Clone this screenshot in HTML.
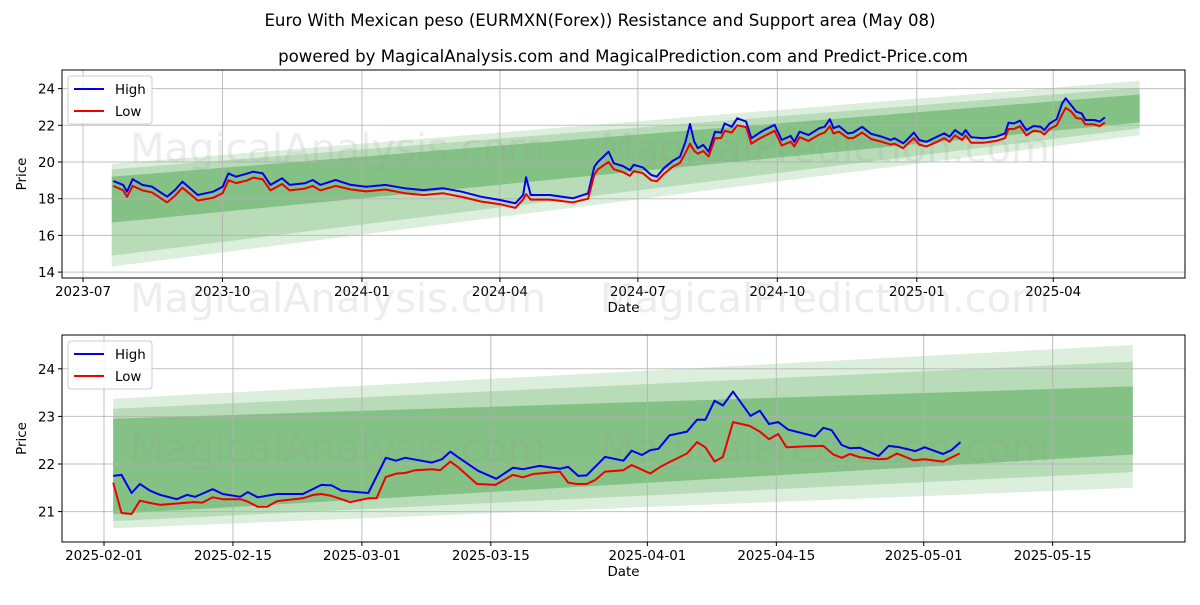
<!DOCTYPE html>
<html><head><meta charset="utf-8"><style>
body{margin:0;background:#fff;}
svg{font-family:"DejaVu Sans","Liberation Sans",sans-serif;}
</style></head><body>
<svg id="c" width="1200" height="600" viewBox="0 0 1200 600" xmlns="http://www.w3.org/2000/svg">
<rect width="1200" height="600" fill="#fff"/>
<text x="600" y="26" text-anchor="middle" font-size="16.6">Euro With Mexican peso (EURMXN(Forex)) Resistance and Support area (May 08)</text>
<text x="623" y="62" text-anchor="middle" font-size="16.6">powered by MagicalAnalysis.com and MagicalPrediction.com and Predict-Price.com</text>
<g id="top"></g>
<g id="bot"></g>
</svg>
<script>
// ---------- TOP CHART DATA (days since 2023-07-01) ----------
const topDays = [20,26.5,29,32.8,39.1,45.4,55.5,60.6,65.6,75.7,85.8,92.1,95.9,100.9,108.5,112.3,118.6,123.7,131.3,136.3,146.4,151.5,156.5,166.6,176.7,186.8,199.4,212,224.7,237.3,249.9,262.5,275.1,285.2,290.3,292.3,295.3,307.9,323.1,333.2,
337.3,339.6,346.7,350.2,356.1,360.8,363.2,369.1,374.9,378.5,383.2,389.1,393.8,397.4,400.4,403.2,405.6,409.1,412.7,416.9,420.9,423.2,428.0,431.5,437.4,440.9,445.6,450.3,456.2,460.9,466.8,469.2,472.7,478.6,485.7,489.2,492.7,495.1,498.6,504.5,508.0,513.9,519.9,526.9,532.8,535.2,541.0,543.4,548.1,551.6,556.3,563.4,568.1,571.6,575.2,579.9,582.2,585.8,594.0,602.3,608.2,610.5,614.0,618.1,622.3,627.0,631.7,634.1,637.6,642.3,645.9,648.2,651.8,655.3,658.8,661.2,667.1,670.6,674.1];
const topHigh = [18.96,18.75,18.38,19.06,18.75,18.66,18.11,18.47,18.93,18.2,18.38,18.65,19.38,19.2,19.38,19.47,19.38,18.75,19.11,18.75,18.84,19.02,18.75,19.02,18.75,18.65,18.75,18.57,18.47,18.57,18.38,18.11,17.93,17.75,18.2,19.17,18.2,18.2,18.02,18.29,
19.74,20.0,20.56,19.93,19.78,19.56,19.84,19.71,19.29,19.2,19.66,20.07,20.29,21.1,22.07,21.1,20.75,20.93,20.56,21.65,21.6,22.1,21.92,22.38,22.2,21.29,21.56,21.78,22.02,21.2,21.42,21.1,21.65,21.47,21.84,21.92,22.33,21.84,21.96,21.56,21.6,21.92,21.53,21.38,21.2,21.29,21.02,21.2,21.6,21.2,21.1,21.38,21.56,21.38,21.74,21.47,21.74,21.35,21.29,21.38,21.56,22.14,22.1,22.25,21.74,21.96,21.92,21.74,22.1,22.33,23.2,23.47,23.1,22.74,22.65,22.29,22.29,22.2,22.43];
const topLow = [18.7,18.45,18.1,18.7,18.45,18.35,17.8,18.15,18.6,17.9,18.05,18.3,19.0,18.85,19.0,19.15,19.05,18.45,18.8,18.45,18.55,18.7,18.45,18.7,18.5,18.4,18.5,18.3,18.2,18.3,18.1,17.85,17.7,17.5,17.95,18.25,17.95,17.95,17.8,18.0,
19.3,19.6,20.0,19.6,19.45,19.25,19.5,19.4,19.0,18.95,19.35,19.75,19.95,20.5,21.0,20.6,20.45,20.6,20.3,21.3,21.3,21.7,21.6,22.0,21.9,21.0,21.25,21.45,21.7,20.9,21.1,20.85,21.35,21.15,21.5,21.6,21.95,21.55,21.65,21.3,21.3,21.6,21.25,21.1,20.95,21.0,20.75,20.95,21.3,20.95,20.85,21.1,21.3,21.1,21.45,21.2,21.45,21.05,21.05,21.15,21.3,21.8,21.8,21.95,21.45,21.7,21.65,21.5,21.8,22.0,22.6,22.95,22.75,22.4,22.35,22.05,22.05,21.95,22.15];
const topTickLabels = ["2023-07","2023-10","2024-01","2024-04","2024-07","2024-10","2025-01","2025-04"];
const topYTicks = [14,16,18,20,22,24];
const topBandStart = "2023-07-20", topBandEnd = "2025-05-28";
const topBandLo0 = [14.3,14.9,16.7], topBandHi0 = [19.9,19.6,19.2];
const topBandLo1 = [21.46,21.84,22.16], topBandHi1 = [24.43,24.05,23.68];

// ---------- BOTTOM CHART DATA (days since 2025-02-01) ----------
const botHighDays = [1,1.9,3,3.9,5,6.1,7.9,9,9.9,10.6,11.8,12.9,14.8,15.6,16.7,18.8,21.6,23.6,24.7,25.8,28.7,30.6,31.7,32.7,35.6,36.7,37.6,38.4,40.6,42.6,44.4,45.5,47.3,49.5,50.4,51.5,52.4,54.4,56.4,57.3,58.4,59.3,60.2,61.4,63.3,64.4,65.3,66.3,67.2,68.3,70.2,71.2,72.2,73.2,74.3,77.2,78.1,79,80.1,81,82.1,84.1,85.2,86.4,88.1,89.1,91.1,92,93];
const botHighVals = [21.75,21.77,21.39,21.58,21.44,21.35,21.26,21.35,21.31,21.37,21.47,21.37,21.31,21.41,21.30,21.37,21.37,21.56,21.55,21.44,21.39,22.13,22.07,22.13,22.03,22.10,22.26,22.15,21.86,21.69,21.92,21.89,21.96,21.90,21.94,21.75,21.76,22.15,22.07,22.28,22.19,22.29,22.32,22.60,22.68,22.93,22.93,23.33,23.23,23.52,23.01,23.12,22.84,22.88,22.72,22.58,22.76,22.71,22.40,22.33,22.34,22.17,22.38,22.35,22.27,22.35,22.21,22.29,22.46];
const botLowDays = [1,1.9,3,3.9,5,6.1,7.9,9.7,10.7,11.8,12.9,14.8,15.6,16.7,17.7,18.8,21.6,22.7,23.6,24.7,26.7,28.7,29.6,30.6,31.8,32.7,33.8,35.6,36.5,37.6,38.4,40.5,42.5,44.4,45.5,46.6,49.5,50.4,51.3,52.4,53.3,54.4,56.4,57.3,59.3,60.4,61.5,63.3,64.4,65.3,66.3,67.2,68.3,70.1,71.2,72.2,73.2,74.1,76.1,78.1,79.2,80.1,81,82.1,84.1,85,86.1,87.9,89.1,91.1,92.9];
const botLowVals = [21.61,20.97,20.95,21.23,21.18,21.14,21.17,21.20,21.19,21.30,21.26,21.26,21.21,21.10,21.10,21.22,21.28,21.35,21.37,21.33,21.20,21.28,21.28,21.73,21.80,21.81,21.87,21.89,21.87,22.05,21.94,21.58,21.56,21.77,21.72,21.79,21.84,21.61,21.58,21.58,21.66,21.84,21.87,21.98,21.80,21.94,22.05,22.22,22.46,22.35,22.05,22.15,22.88,22.80,22.68,22.52,22.63,22.35,22.37,22.38,22.20,22.13,22.21,22.14,22.10,22.11,22.22,22.08,22.10,22.05,22.22];
const botTickLabels = ["2025-02-01","2025-02-15","2025-03-01","2025-03-15","2025-04-01","2025-04-15","2025-05-01","2025-05-15"];
const botYTicks = [21,22,23,24];
const botBandStartDay = 1, botBandEndDay = 111.7;
const botBandLo0 = [20.65,20.8,20.95], botBandHi0 = [23.37,23.16,22.95];
const botBandLo1 = [21.5,21.83,22.2], botBandHi1 = [24.5,24.15,23.63];

const NS="http://www.w3.org/2000/svg";
const bandColors=["#dcefdc","#b7dcb7","#84c184"];
function mk(tag,attrs,parent){const e=document.createElementNS(NS,tag);for(const k in attrs)e.setAttribute(k,attrs[k]);parent.appendChild(e);return e;}
const DAY=86400000;
function dd(s){return (Date.parse(s+"T00:00:00Z")-Date.parse("2023-07-01T00:00:00Z"))/DAY;}
function bd(s){return (Date.parse(s+"T00:00:00Z")-Date.parse("2025-02-01T00:00:00Z"))/DAY;}
const FS=13.4;
function panel(g,cfg){
  const {L,R,T,B,xs,ys}=cfg;
  for(let i=0;i<3;i++){
    const x0=xs(cfg.b0),x1=xs(cfg.b1);
    const p=mk("polygon",{points:`${x0},${ys(cfg.hi0[i])} ${x1},${ys(cfg.hi1[i])} ${x1},${ys(cfg.lo1[i])} ${x0},${ys(cfg.lo0[i])}`,fill:bandColors[i]},g);
    
    
  }
  cfg.xt.forEach((lab,i)=>{const x=xs(cfg.xtv[i]);
    mk("line",{x1:x,x2:x,y1:T,y2:B,stroke:"#b0b0b0","stroke-width":1,"stroke-opacity":0.8},g);
    mk("line",{x1:x,x2:x,y1:B,y2:B+4,stroke:"#000"},g);
    const t=mk("text",{x:x,y:B+18,"text-anchor":"middle","font-size":FS},g);t.textContent=lab;
    
    });
  cfg.yt.forEach(v=>{const y=ys(v);
    mk("line",{x1:L,x2:R,y1:y,y2:y,stroke:"#b0b0b0","stroke-width":1,"stroke-opacity":0.8},g);
    mk("line",{x1:L-4,x2:L,y1:y,y2:y,stroke:"#000"},g);
    const t=mk("text",{x:L-7,y:y+5,"text-anchor":"end","font-size":FS},g);t.textContent=v;
    
    });
  cfg.marks.forEach(m=>{const t=mk("text",{x:m[0],y:m[1],"font-size":40,fill:"#999","fill-opacity":0.18},g);t.textContent=m[2];
    
    });
  const hp=cfg.hx.map((d,i)=>xs(d).toFixed(1)+","+ys(cfg.hv[i]).toFixed(1)).join(" ");
  const lp=cfg.lx.map((d,i)=>xs(d).toFixed(1)+","+ys(cfg.lv[i]).toFixed(1)).join(" ");
  const h=mk("polyline",{points:hp,fill:"none",stroke:"#0000ee","stroke-width":2,"stroke-linejoin":"round"},g);
  
  
  const l=mk("polyline",{points:lp,fill:"none",stroke:"#ee0000","stroke-width":2,"stroke-linejoin":"round"},g);
  
  
  mk("rect",{x:L,y:T,width:R-L,height:B-T,fill:"none",stroke:"#000","stroke-width":1},g);
  const xt=mk("text",{x:(L+R)/2,y:B+34,"text-anchor":"middle","font-size":FS},g);xt.textContent="Date";
  
  
  const yt=mk("text",{x:0,y:0,"text-anchor":"middle","font-size":FS,transform:`translate(26,${(T+B)/2}) rotate(-90)`},g);yt.textContent="Price";
  
  
  const lg=mk("g",{},g);
  
  
  mk("rect",{x:L+6,y:T+6,width:84,height:48,rx:3,fill:"#fff","fill-opacity":0.85,stroke:"#ccc"},lg);
  mk("line",{x1:L+12,x2:L+42,y1:T+19,y2:T+19,stroke:"#0000ee","stroke-width":2},lg);
  mk("line",{x1:L+12,x2:L+42,y1:T+41,y2:T+41,stroke:"#ee0000","stroke-width":2},lg);
  const a=mk("text",{x:L+53,y:T+24,"font-size":FS},lg);a.textContent="High";
  
  
  const b=mk("text",{x:L+53,y:T+46,"font-size":FS},lg);b.textContent="Low";
  
  
}
const tg=document.getElementById("top");
panel(tg,{L:62,R:1185,T:70,B:278,
  xs:d=>83+1.516*d, ys:v=>162-(v-20)*18.35,
  marks:[[130,162,"MagicalAnalysis.com"],[600,162,"MagicalPrediction.com"],[130,312,"MagicalAnalysis.com"],[600,312,"MagicalPrediction.com"]],
  b0:dd(topBandStart),b1:dd(topBandEnd),lo0:topBandLo0,hi0:topBandHi0,lo1:topBandLo1,hi1:topBandHi1,
  xt:topTickLabels,xtv:topTickLabels.map(s=>dd(s+"-01")),yt:topYTicks,
  hx:topDays,hv:topHigh,lx:topDays,lv:topLow});
const bg=document.getElementById("bot");
panel(bg,{L:62,R:1185,T:335,B:542,
  xs:d=>104+9.21*d, ys:v=>464-(v-22)*47.6,
  marks:[[130,462,"MagicalAnalysis.com"],[600,462,"MagicalPrediction.com"]],
  b0:botBandStartDay,b1:botBandEndDay,lo0:botBandLo0,hi0:botBandHi0,lo1:botBandLo1,hi1:botBandHi1,
  xt:botTickLabels,xtv:botTickLabels.map(bd),yt:botYTicks,
  hx:botHighDays,hv:botHighVals,lx:botLowDays,lv:botLowVals});
</script>
</body></html>
